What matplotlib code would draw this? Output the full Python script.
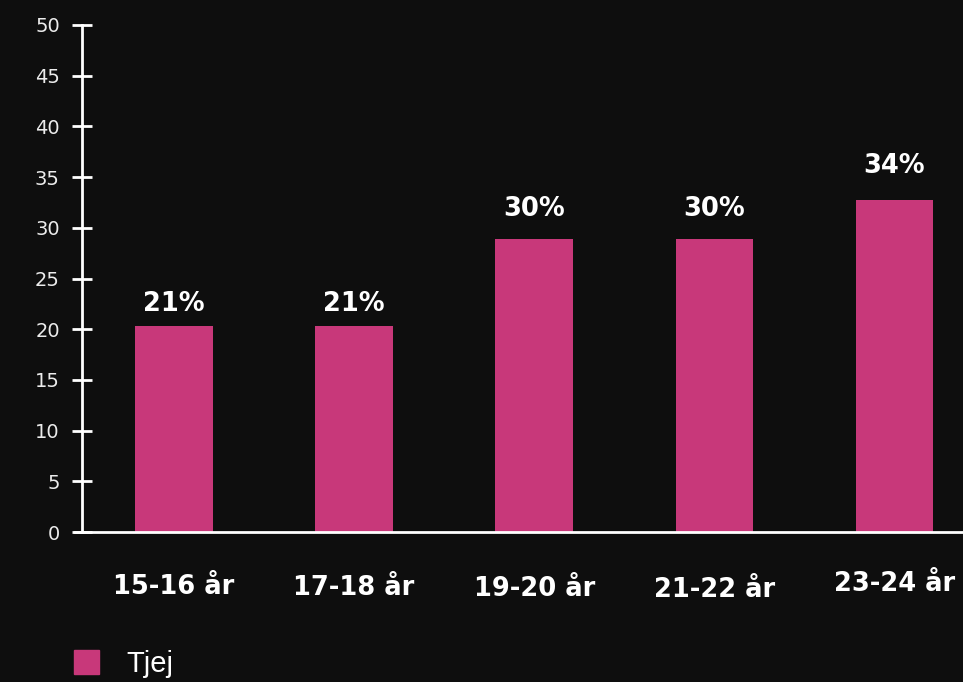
import matplotlib.pyplot as plt
import matplotlib.patches as mpatches

categories = ['15-16 år', '17-18 år', '19-20 år', '21-22 år', '23-24 år']
values = [20.3, 20.3, 28.9, 28.9, 32.7]
value_labels = ['21%', '21%', '30%', '30%', '34%']
series_name = 'Tjej'

BG = '#0e0e0e'
PINK = '#c8387a'
WHITE = '#ffffff'

fig = plt.figure(figsize=(9.63, 6.82), dpi=100, facecolor=BG)
ax = fig.add_axes([82 / 963, 1 - 532 / 682, 1 - 82 / 963, (532 - 25) / 682])
ax.set_facecolor(BG)

x = range(len(categories))
bars = ax.bar(x, values, width=0.43, color=PINK, label=series_name, zorder=2)

# the percent labels sit a bit above the bars, at their own value
for i, lab in enumerate(value_labels):
    ax.text(i, float(lab.rstrip('%')) * 1.04, lab, ha='center', va='baseline',
            color=WHITE, fontsize=18.5, fontweight='bold', family='DejaVu Sans')

ax.set_xlim(-0.51, 4.38)
ax.set_ylim(0, 50)
ax.set_yticks(range(0, 51, 5))
ax.set_xticks(list(x))
ax.set_xticklabels(categories, fontsize=18.5, fontweight='bold',
                   family='DejaVu Sans', color=WHITE)

# labels sit at slightly uneven heights in the original
for tick, pad in zip(ax.xaxis.get_major_ticks(), [30, 30.8, 31.8, 32.6, 28.4]):
    tick.set_pad(pad)

ax.tick_params(axis='x', length=0)
ax.tick_params(axis='y', direction='inout', length=14, width=2, color=WHITE,
               labelcolor='#ececec', labelsize=14, pad=9)

for side in ['top', 'right']:
    ax.spines[side].set_visible(False)
for side in ['left', 'bottom']:
    ax.spines[side].set_color(WHITE)
    ax.spines[side].set_linewidth(2)
ax.spines['bottom'].set_bounds(-0.55, 4.38)

handle = mpatches.Patch(color=PINK, label=series_name)
fig.legend(handles=[handle], loc='center left',
           bbox_to_anchor=(74 / 963, 1 - 664 / 682),
           frameon=False, borderpad=0, borderaxespad=0,
           handlelength=0.86, handleheight=0.86, handletextpad=0.95,
           prop={'family': 'Liberation Sans', 'size': 21},
           labelcolor=WHITE)

fig.savefig('out.png', dpi=100, facecolor=BG)
